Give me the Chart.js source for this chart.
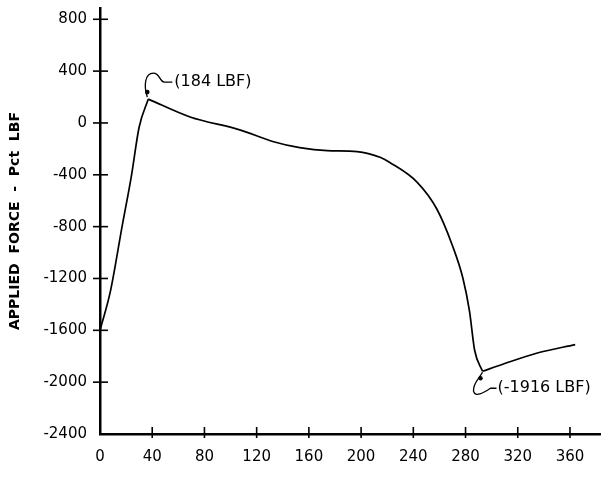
<!DOCTYPE html>
<html>
<head>
<meta charset="utf-8">
<script src="https://cdn.jsdelivr.net/npm/chart.js@4/dist/chart.umd.min.js"></script>
<style>
  html, body { margin: 0; padding: 0; background: #fff; }
  #wrap { width: 608px; height: 480px; }
</style>
</head>
<body>
<div id="wrap"><canvas id="forceChart" width="608" height="480"></canvas></div>
<script>
// crank angle (deg) and applied force (lbf)
var angleDeg = [0, 8, 17, 24, 30, 37, 69, 107, 133, 153, 174, 197, 215, 222, 243, 258, 270, 278, 283, 287, 293, 309, 335, 364];
var forceLbf = [-1600, -1298, -794, -412, -31, 184, 46, -53, -145, -191, -214, -221, -267, -305, -458, -664, -947, -1198, -1450, -1756, -1916, -1860, -1775, -1710];

var xTickValues = [0, 40, 80, 120, 160, 200, 240, 280, 320, 360];
var yTickValues = [-2400, -2000, -1600, -1200, -800, -400, 0, 400, 800];

// callouts on the peak and the trough (these are also the sharp corners)
var noteIndex = [5, 20];
var noteText = ['(184 LBF)', '(-1916 LBF)'];

var handFont = 'DejaVu Sans';

// crossing tick marks + the two callouts
var sketchMarks = {
  id: 'sketchMarks',
  afterDraw: function (chart) {
    var ctx = chart.ctx;
    var xs = chart.scales.x, ys = chart.scales.y;
    var area = chart.chartArea;
    ctx.save();
    ctx.strokeStyle = '#000';
    ctx.fillStyle = '#000';
    ctx.lineWidth = 1.6;

    yTickValues.forEach(function (v) {
      if (v === ys.min) return;
      var y = ys.getPixelForValue(v);
      ctx.beginPath();
      ctx.moveTo(area.left - 7, y);
      ctx.lineTo(area.left + 8, y);
      ctx.stroke();
    });
    xTickValues.forEach(function (v) {
      if (v === xs.min) return;
      var x = xs.getPixelForValue(v);
      ctx.beginPath();
      ctx.moveTo(x, area.bottom - 7);
      ctx.lineTo(x, area.bottom + 4);
      ctx.stroke();
    });

    ctx.font = '16px "' + handFont + '"';
    ctx.textBaseline = 'middle';
    ctx.textAlign = 'left';
    ctx.lineWidth = 1.3;

    // peak callout: loop going up then right
    var px = xs.getPixelForValue(angleDeg[noteIndex[0]]);
    var py = ys.getPixelForValue(forceLbf[noteIndex[0]]);
    ctx.beginPath();
    ctx.moveTo(px - 1, py - 2);
    ctx.bezierCurveTo(px - 5, py - 14, px - 3, py - 26, px + 5, py - 26);
    ctx.bezierCurveTo(px + 12, py - 26, px + 11, py - 17, px + 16, py - 17);
    ctx.lineTo(px + 24, py - 17);
    ctx.stroke();
    ctx.beginPath();
    ctx.arc(px - 1, py - 7, 2.3, 0, Math.PI * 2);
    ctx.fill();
    ctx.fillText(noteText[0], px + 26, py - 17);

    // trough callout: loop going down then right
    px = xs.getPixelForValue(angleDeg[noteIndex[1]]);
    py = ys.getPixelForValue(forceLbf[noteIndex[1]]);
    ctx.beginPath();
    ctx.moveTo(px, py + 1);
    ctx.bezierCurveTo(px - 3, py + 7, px - 10, py + 12, px - 9, py + 20);
    ctx.bezierCurveTo(px - 7, py + 27, px + 3, py + 20, px + 8, py + 17);
    ctx.lineTo(px + 14, py + 17);
    ctx.stroke();
    ctx.beginPath();
    ctx.arc(px - 2, py + 7, 2.2, 0, Math.PI * 2);
    ctx.fill();
    ctx.fillText(noteText[1], px + 15, py + 17);

    ctx.restore();
  }
};

// one dataset per stretch between the corners so the corners stay sharp
function segment(from, to) {
  var pts = [];
  for (var i = from; i <= to; i++) pts.push({ x: angleDeg[i], y: forceLbf[i] });
  return {
    data: pts,
    borderColor: '#000',
    borderWidth: 1.7,
    pointRadius: 0,
    fill: false,
    cubicInterpolationMode: 'monotone'
  };
}

var ctx = document.getElementById('forceChart');
var forceChart = new Chart(ctx, {
  type: 'line',
  data: {
    datasets: [
      segment(0, noteIndex[0]),
      segment(noteIndex[0], noteIndex[1]),
      segment(noteIndex[1], angleDeg.length - 1)
    ]
  },
  options: {
    responsive: false,
    animation: false,
    devicePixelRatio: 1,
    layout: { padding: { top: 8, right: 8, left: 0, bottom: 0 } },
    plugins: {
      legend: { display: false },
      tooltip: { enabled: false }
    },
    scales: {
      x: {
        type: 'linear',
        min: 0,
        max: 383,
        afterBuildTicks: function (s) { s.ticks = xTickValues.map(function (v) { return { value: v }; }); },
        afterFit: function (s) { s.height = 46; s.paddingLeft = 0; s.paddingRight = 0; },
        grid: { drawOnChartArea: false, drawTicks: false },
        border: { color: '#000', width: 2.5 },
        ticks: {
          color: '#000',
          font: { family: handFont, size: 15 },
          padding: 14,
          maxRotation: 0,
          autoSkip: false,
          callback: function (v) { return String(v); }
        }
      },
      y: {
        type: 'linear',
        min: -2400,
        max: 887,
        afterBuildTicks: function (s) { s.ticks = yTickValues.map(function (v) { return { value: v }; }); },
        afterFit: function (s) { s.width = 100; s.paddingTop = 0; s.paddingBottom = 0; },
        grid: { drawOnChartArea: false, drawTicks: false },
        border: { color: '#000', width: 2.5 },
        ticks: {
          color: '#000',
          font: { family: handFont, size: 15 },
          padding: 13,
          callback: function (v) { return String(v); }
        },
        title: {
          display: true,
          text: 'APPLIED  FORCE  -  Pct  LBF',
          color: '#000',
          font: { family: handFont, size: 14, weight: 'bold' },
          padding: { top: 7, bottom: 0 }
        }
      }
    }
  },
  plugins: [sketchMarks]
});
</script>
</body>
</html>
